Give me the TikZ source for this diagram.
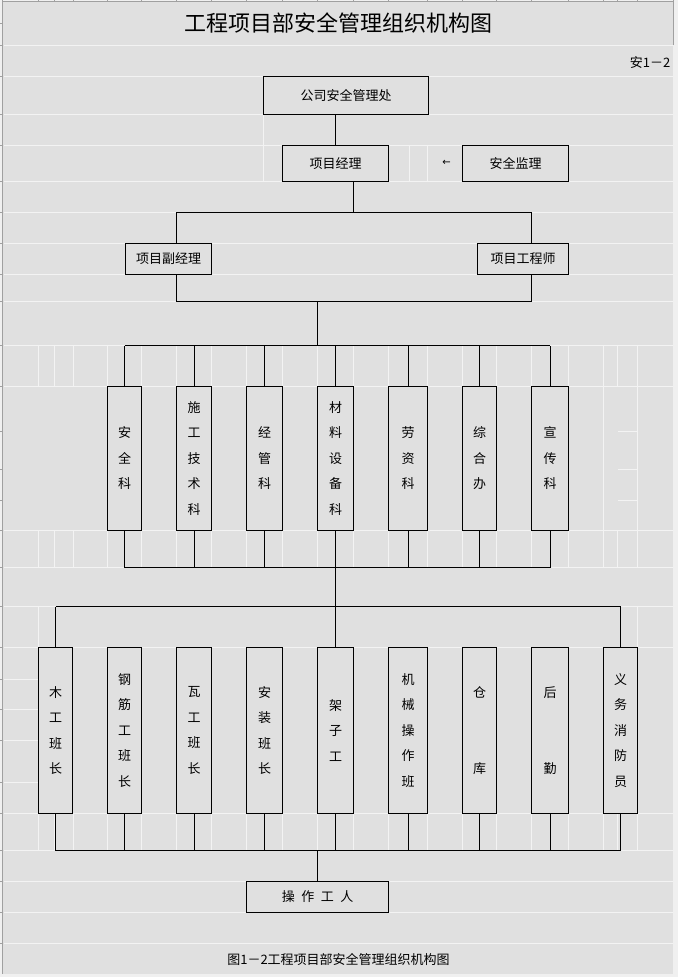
\documentclass[tikz,border=0pt]{standalone}
\usepackage{fontspec}
\newfontfamily\cjk{Noto Sans CJK SC}
\newfontfamily\arrowfont{DejaVu Sans}
\usetikzlibrary{calc,arrows.meta}
\definecolor{bg}{HTML}{E0E0E0}
\definecolor{gridc}{HTML}{F3F3F3}
\definecolor{framec}{HTML}{A0A0A0}
\definecolor{outer}{HTML}{F0F0F0}
\begin{document}
\begin{tikzpicture}[x=1pt,y=-1pt,
  box/.style={draw=black, line width=1.1pt, fill=bg, inner sep=0pt, outer sep=0pt, anchor=north west,
    font=\cjk\fontsize{13}{25.5}\selectfont, align=center},
  link/.style={draw=black, line width=1pt},
  gridline/.style={draw=gridc, line width=1pt},
  label/.style={font=\cjk\fontsize{13}{16}\selectfont, inner sep=0pt}]
% ---------- sheet background ----------
\fill[outer] (0,0) rectangle (678,977);
\useasboundingbox (0,0) rectangle (678,977);
\fill[bg] (3,2) rectangle (673,974);
\draw[framec, line width=1pt] (2.5,0) -- (2.5,974);
\draw[framec, line width=1pt] (2.5,1) -- (673,1);
\draw[framec, line width=1pt] (673,0) -- (673,45);
\begin{scope}[shift={(0.5,0.5)}]
\foreach \y in {23,45,76,114,145,181,212,243,274,301,345,386,431,469,500,530,567,606,647,679,709,740,782,813,850,881,912,943}
  \draw[framec, line width=0.8pt] (-0.5,\y) -- (2.5,\y);
\foreach \x in {38,54,73,107,141,176,211,246,282,317,353,388,427,462,496,531,568,603,617,637}
  \draw[framec, line width=0.8pt] (\x,-0.5) -- (\x,1.5);
% ---------- grid lines ----------
\foreach \y in {45,76,114,145,181,212,243,274,301,345,386,530,567,606,647,813,850,881,912,943}
  \draw[gridline] (3,\y) -- (672.5,\y);
\foreach \x in {38,54,73,107,141,176,211,246,282,317,353,388,427,462,496,531,568,603,617,637}{
  \draw[gridline] (\x,345) -- (\x,386);
  \draw[gridline] (\x,530) -- (\x,567);
  \draw[gridline] (\x,813) -- (\x,850);
}
\foreach \y in {431,469,500} \draw[gridline] (617,\y) -- (637,\y);
\draw[gridline] (603,386) -- (603,530);
\draw[gridline] (637,386) -- (637,530);
\foreach \y in {679,709,740,782} \draw[gridline] (3,\y) -- (38,\y);
\draw[gridline] (38,606) -- (38,647);
\draw[gridline] (637,606) -- (637,647);
\draw[gridline] (263,114) -- (263,181);
\draw[gridline] (409,145) -- (409,181);
\draw[gridline] (427,145) -- (427,181);
% ---------- texts ----------
\node[font=\cjk\fontsize{22}{26}\selectfont, inner sep=0pt] (title) at (338,23) {工程项目部安全管理组织机构图};
\node[label, anchor=east] (code) at (670,62) {安1－2};
\node[label] (caption) at (338,959) {图1－2工程项目部安全管理组织机构图};
% ---------- upper boxes ----------
\node[box, minimum width=165pt, minimum height=38pt] (gs) at (263,76) {公司安全管理处};
\node[box, minimum width=106pt, minimum height=36pt] (pm) at (282,145) {项目经理};
\node[box, minimum width=106pt, minimum height=36pt] (sv) at (462,145) {安全监理};
\node[font=\arrowfont\fontsize{10}{12}\selectfont, inner sep=0pt] (arr) at (446,162.5) {←};
\node[box, minimum width=86pt, minimum height=31pt] (fj) at (125,243) {项目副经理};
\node[box, minimum width=91pt, minimum height=31pt] (gc) at (477,243) {项目工程师};
% ---------- middle row ----------
\node[box, minimum width=34pt, minimum height=144pt] (ak) at (107,386) {安\\全\\科};
\node[box, minimum width=35pt, minimum height=144pt] (sg) at (176,386) {施\\工\\技\\术\\科};
\node[box, minimum width=36pt, minimum height=144pt] (jg) at (246,386) {经\\管\\科};
\node[box, minimum width=36pt, minimum height=144pt] (cl) at (317,386) {材\\料\\设\\备\\科};
\node[box, minimum width=39pt, minimum height=144pt] (lz) at (388,386) {劳\\资\\科};
\node[box, minimum width=34pt, minimum height=144pt] (zh) at (462,386) {综\\合\\办};
\node[box, minimum width=37pt, minimum height=144pt] (xc) at (531,386) {宣\\传\\科};
% ---------- bottom row ----------
\node[box, minimum width=34pt, minimum height=166pt] (mg) at (38,647) {木\\工\\班\\长};
\node[box, minimum width=34pt, minimum height=166pt] (gj) at (107,647) {钢\\筋\\工\\班\\长};
\node[box, minimum width=35pt, minimum height=166pt] (wg) at (176,647) {瓦\\工\\班\\长};
\node[box, minimum width=36pt, minimum height=166pt] (az) at (246,647) {安\\装\\班\\长};
\node[box, minimum width=36pt, minimum height=166pt] (jz) at (317,647) {架\\子\\工};
\node[box, minimum width=39pt, minimum height=166pt] (jx) at (388,647) {机\\械\\操\\作\\班};
\node[box, minimum width=34pt, minimum height=166pt] (ck) at (462,647) {仓\\\strut\\\strut\\库};
\node[box, minimum width=37pt, minimum height=166pt] (hq) at (531,647) {后\\\strut\\\strut\\勤};
\node[box, minimum width=34pt, minimum height=166pt] (xf) at (603,647) {义\\务\\消\\防\\员};
\node[box, minimum width=142pt, minimum height=31pt] (cz) at (246,881) {操\hspace{0.5em}作\hspace{0.5em}工\hspace{0.5em}人};
% ---------- connectors ----------
\coordinate (pmdown) at (353,212);
\coordinate (busL) at (176,212);
\coordinate (busR) at (531,212);
\coordinate (b2L) at (176,301);
\coordinate (b2R) at (531,301);
\coordinate (b2M) at (317,301);
\coordinate (b3) at (317,345);
\coordinate (b4) at (335,567);
\coordinate (b5) at (335,606);
\coordinate (b6) at (317,850);
\draw[link] (pm.north) -- (pm.north |- gs.south);
\draw[link] (pmdown |- pm.south) -- (pmdown);
\draw[link] (busL |- fj.north) -- (busL) -- (busR) -- (busR |- gc.north);
\draw[link] (b2L |- fj.south) -- (b2L) -- (b2R) -- (b2R |- gc.south);
\draw[link] (b2M) -- (b3);
\draw[link] (ak.north |- b3) -- (xc.north |- b3);
\foreach \n in {ak,sg,jg,cl,lz,zh,xc}{
  \draw[link] (\n.north) -- (\n.north |- b3);
  \draw[link] (\n.south) -- (\n.south |- b4);
}
\draw[link] (ak.south |- b4) -- (xc.south |- b4);
\draw[link] (b4) -- (b4 |- jz.north);
\draw[link] (mg.north |- b5) -- (xf.north |- b5);
\draw[link] (mg.north) -- (mg.north |- b5);
\draw[link] (xf.north) -- (xf.north |- b5);
\foreach \n in {mg,gj,wg,az,jz,jx,ck,hq,xf}
  \draw[link] (\n.south) -- (\n.south |- b6);
\draw[link] (mg.south |- b6) -- (xf.south |- b6);
\draw[link] (cz.north |- b6) -- (cz.north);
\end{scope}
\end{tikzpicture}
\end{document}
